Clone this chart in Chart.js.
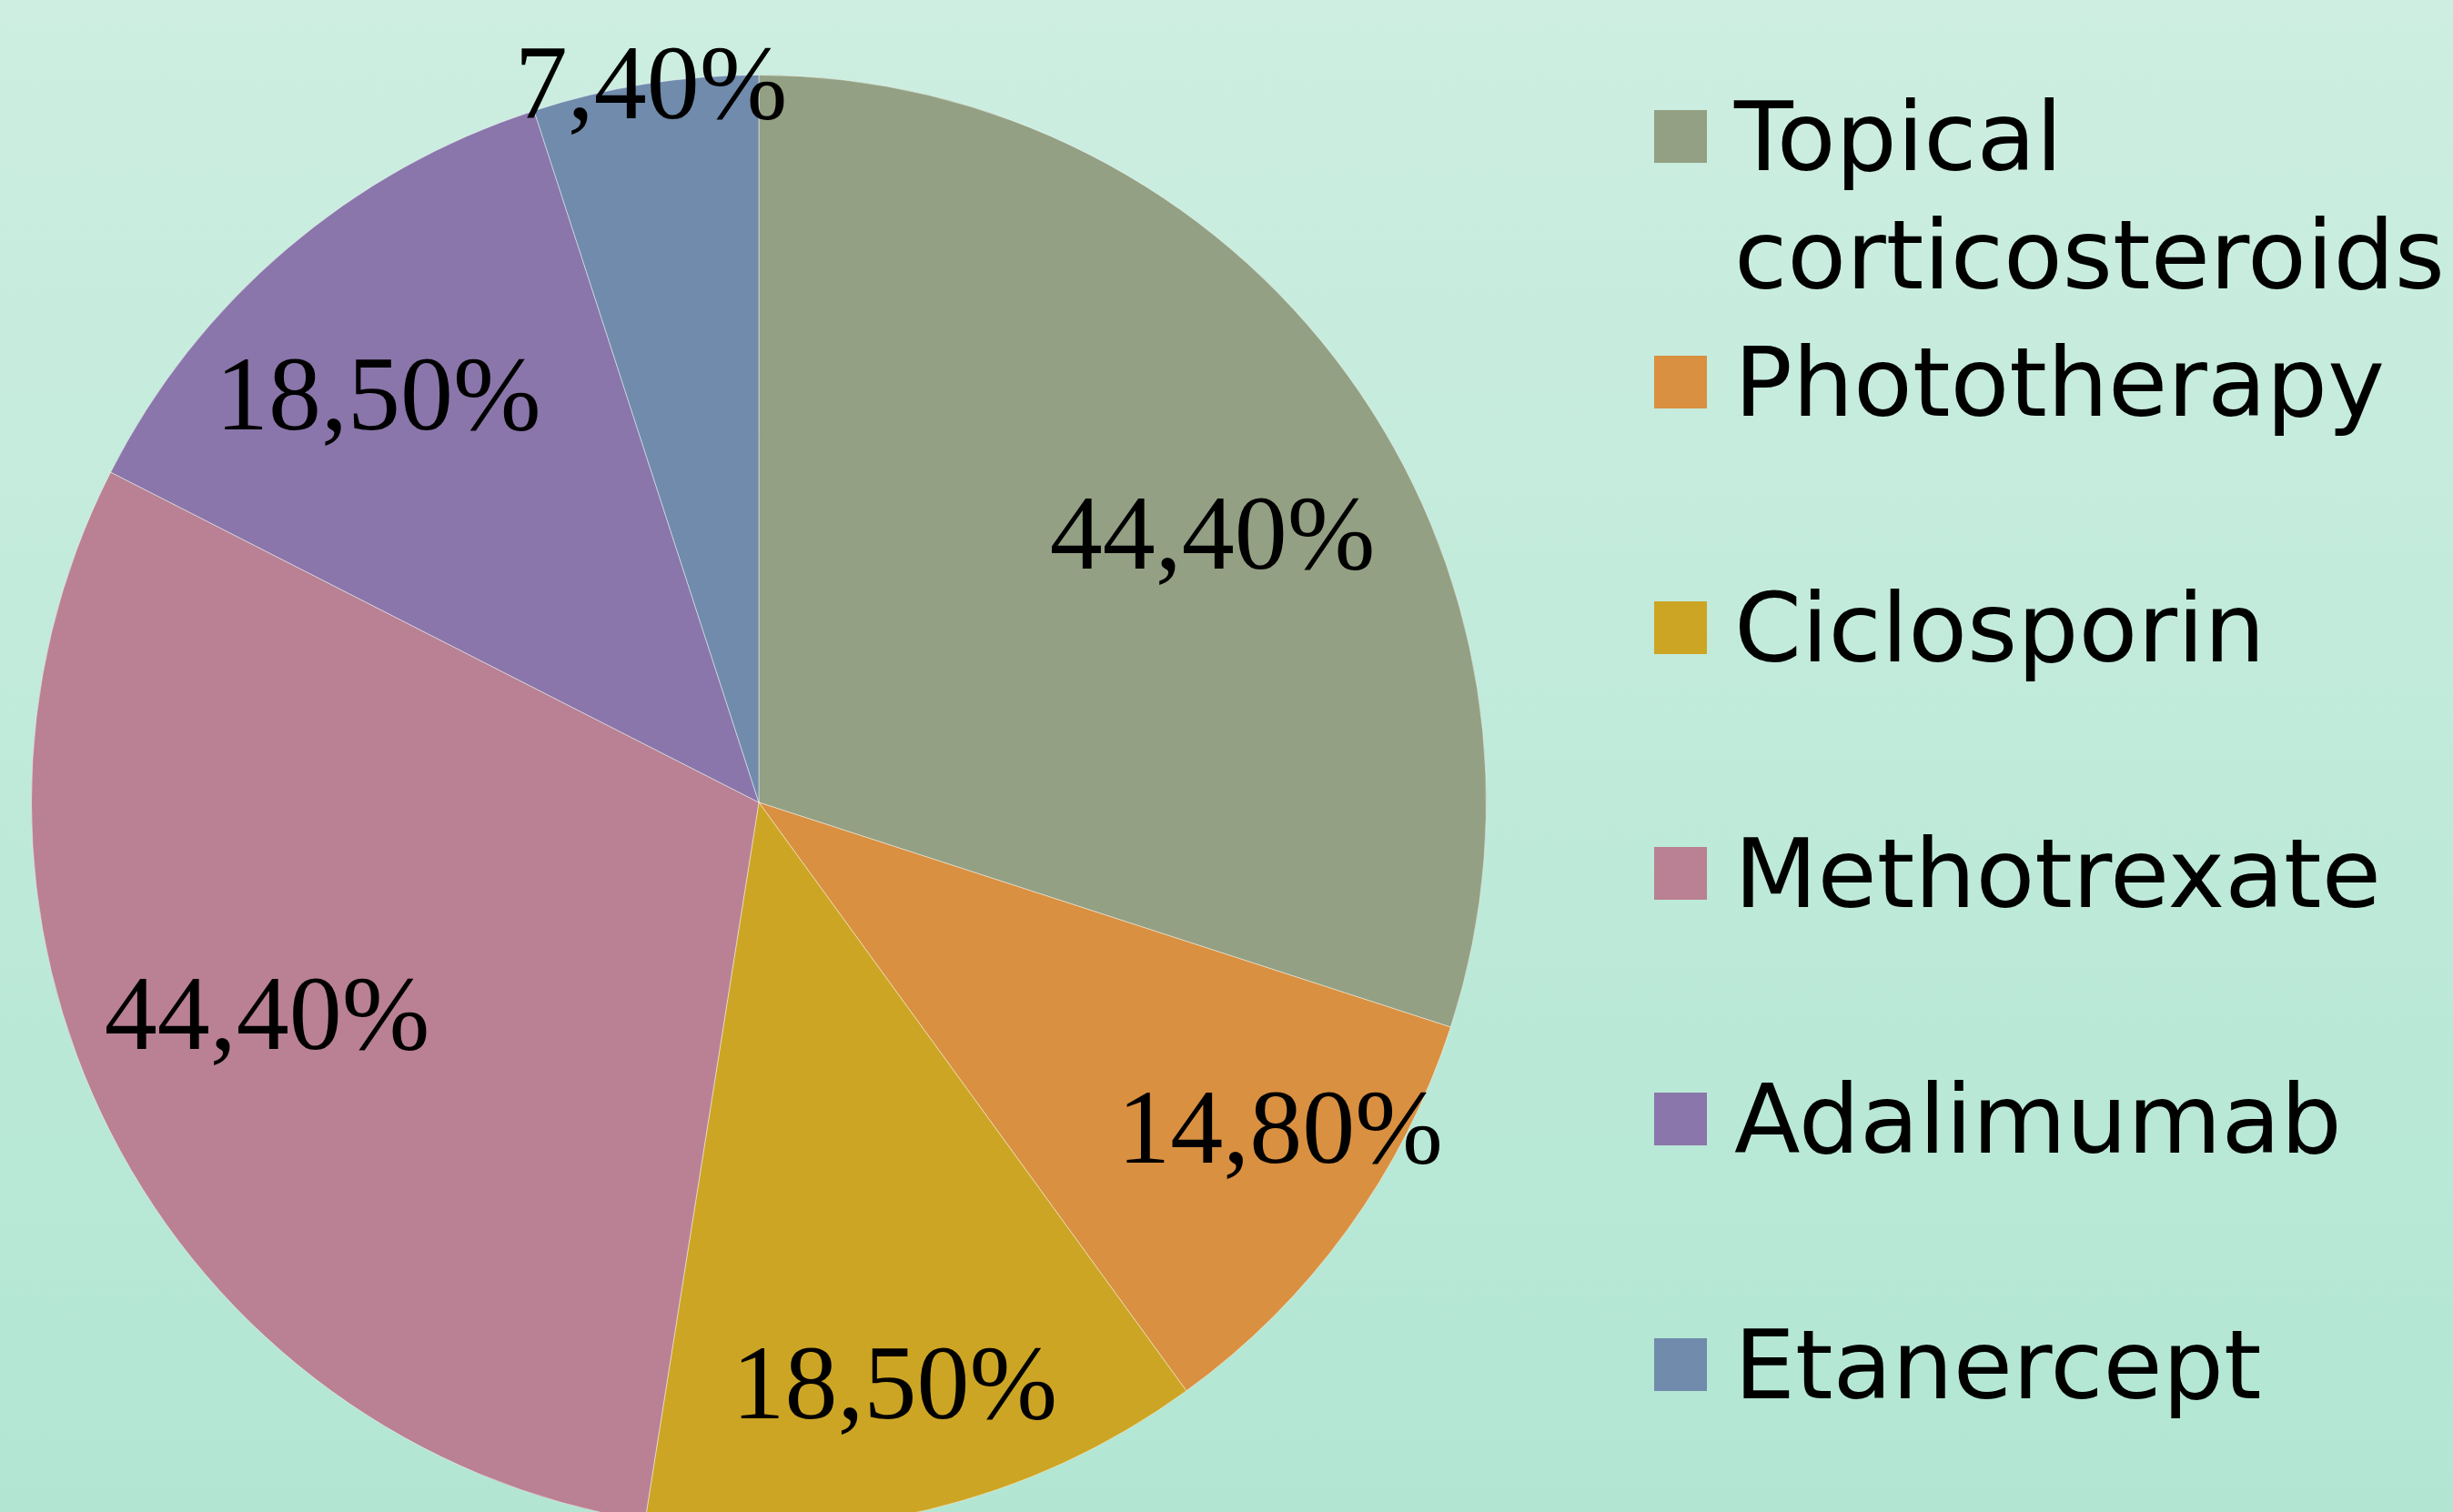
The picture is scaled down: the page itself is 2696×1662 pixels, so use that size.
<!DOCTYPE html>
<html>
<head>
<meta charset="utf-8">
<script src="https://cdn.jsdelivr.net/npm/chart.js@4.4.1/dist/chart.umd.min.js"></script>
<style>
  html, body {
    margin: 0;
    width: 2696px;
    height: 1662px;
    overflow: hidden;
    background: linear-gradient(to bottom, #cdeee1 0%, #b2e6d3 100%);
  }
  #chartBox {
    position: absolute;
    left: 0;
    top: 0;
  }
  .legend-item {
    position: absolute;
    left: 1818px;
  }
  .legend-box {
    position: absolute;
    left: 0;
    top: 0;
    width: 58px;
    height: 58px;
  }
  .legend-text {
    position: absolute;
    left: 88px;
    top: -35px;
    width: 800px;
    font-family: "DejaVu Sans", Verdana, sans-serif;
    font-size: 106px;
    line-height: 130px;
    color: #000;
  }
</style>
</head>
<body>
<canvas id="myChart" width="1760" height="1764"></canvas>
<div id="legend"></div>
<script>
// Data
const categories = ['Topical corticosteroids', 'Phototherapy', 'Ciclosporin', 'Methotrexate', 'Adalimumab', 'Etanercept'];
const percentages = [44.4, 14.8, 18.5, 44.4, 18.5, 7.4];
const sliceColors = ['#93a083', '#d99040', '#cda524', '#b98193', '#8a76aa', '#708bac'];

// where each percentage label sits: fraction of the radius and a small turn (degrees)
const labelRadius = [0.72, 0.85, 0.83, 0.74, 0.76, 0.99];
const labelTurn = [6, -3.5, 0.5, 3, -3, 0.4];

const formatPct = v => v.toFixed(2).replace('.', ',') + '%';

// Draws the percentage labels on top of the slices
const sliceLabels = {
  id: 'sliceLabels',
  afterDatasetsDraw(chart) {
    const ctx = chart.ctx;
    const meta = chart.getDatasetMeta(0);
    ctx.save();
    ctx.font = '116px "Liberation Serif", "Times New Roman", serif';
    ctx.fillStyle = '#000';
    ctx.textAlign = 'center';
    ctx.textBaseline = 'middle';
    meta.data.forEach((arc, i) => {
      const p = arc.getProps(['x', 'y', 'startAngle', 'endAngle', 'outerRadius'], true);
      const mid = (p.startAngle + p.endAngle) / 2 + labelTurn[i] * Math.PI / 180;
      const r = p.outerRadius * labelRadius[i];
      ctx.fillText(formatPct(percentages[i]), p.x + Math.cos(mid) * r, p.y + Math.sin(mid) * r);
    });
    ctx.restore();
  }
};

const myChartCanvas = document.getElementById('myChart');

const myChart = new Chart(myChartCanvas, {
  type: 'pie',
  data: {
    labels: categories,
    datasets: [{
      data: percentages,
      backgroundColor: sliceColors,
      borderColor: 'rgba(255,255,255,0.45)',
      borderWidth: 1
    }]
  },
  options: {
    responsive: false,
    animation: false,
    layout: {
      padding: { left: 34, top: 82, right: 126, bottom: 82 }
    },
    plugins: {
      legend: { display: false },
      tooltip: { enabled: false }
    }
  },
  plugins: [sliceLabels]
});

// Legend on the right, built from the same arrays
const legendEl = document.getElementById('legend');
categories.forEach((name, i) => {
  const item = document.createElement('div');
  item.className = 'legend-item';
  item.style.top = (121 + i * 270) + 'px';
  item.innerHTML = `
    <div class="legend-box" style="background:${sliceColors[i]}"></div>
    <div class="legend-text">${name}</div>
  `;
  legendEl.appendChild(item);
});
</script>
</body>
</html>
